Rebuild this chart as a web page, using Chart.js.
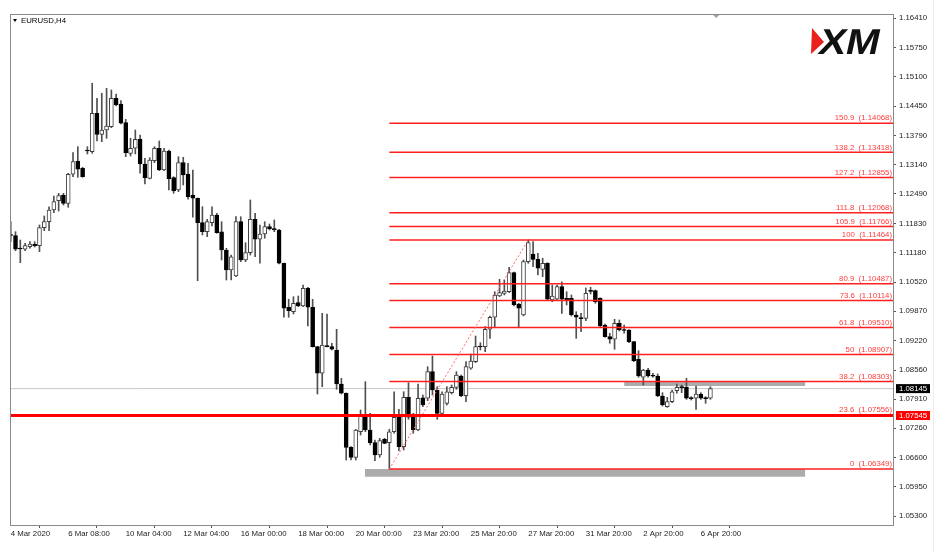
<!DOCTYPE html>
<html>
<head>
<meta charset="utf-8">
<script src="https://cdn.jsdelivr.net/npm/chart.js@4.4.1/dist/chart.umd.min.js"></script>
<style>
  html, body { margin: 0; padding: 0; background: #fff; }
</style>
</head>
<body>
<canvas id="chart" width="945" height="552"></canvas>
<script>
// EURUSD H4 candles (bar index 0 = first visible bar)
const opens = [
  1.11585,1.11558,1.11284,1.11255,1.11313,1.11366,1.11335,1.11737,1.11871,1.12132,
  1.12339,1.12467,1.12281,1.12929,1.13225,1.13063,1.13464,1.13433,1.14290,1.13821,
  1.13917,1.13991,1.14625,1.14498,1.14080,1.13397,1.13509,1.13710,1.13159,1.12839,
  1.13232,1.13509,1.13025,1.13449,1.12853,1.12578,1.13188,1.12935,1.12467,1.12393,
  1.11848,1.11647,1.11848,1.12020,1.11647,1.11239,1.10793,1.10659,1.11871,1.11016,
  1.11179,1.11924,1.11478,1.11596,1.11759,1.11708,1.11685,1.10942,1.09960,1.09862,
  1.10063,1.09989,1.10384,1.09960,1.09081,1.08487,1.09107,1.09081,1.09007,1.08248,
  1.08041,1.06835,1.06612,1.07183,1.07534,1.07221,1.06938,1.06663,1.07014,1.06938,
  1.07183,1.07505,1.06849,1.07951,1.07534,1.07221,1.07942,1.07929,1.08523,1.08114,
  1.07594,1.07817,1.08054,1.08174,1.08427,1.07987,1.08599,1.08746,1.09085,1.09081,
  1.09469,1.09737,1.10212,1.10272,1.10308,1.10732,1.10034,1.09788,1.10978,1.11150,
  1.11031,1.10808,1.10942,1.10123,1.10139,1.10420,1.10161,1.10161,1.09788,1.09721,
  1.09714,1.10324,1.10331,1.10161,1.09565,1.09304,1.09246,1.09603,1.09453,1.09453,
  1.09192,1.08799,1.08398,1.08561,1.08427,1.08427,1.07980,1.07741,1.07853,1.08099,
  1.08174,1.08174,1.07929,1.07929,1.08025,1.07929,1.07929
];
const highs = [
  1.11871,1.11647,1.11462,1.11389,1.11424,1.11424,1.11797,1.11998,1.12205,1.12444,
  1.12504,1.12504,1.12951,1.13411,1.13545,1.13085,1.13545,1.14960,1.14625,1.14737,
  1.14848,1.14810,1.14721,1.14571,1.14156,1.13732,1.13917,1.13806,1.13286,1.13299,
  1.13545,1.13672,1.13509,1.13471,1.12875,1.13321,1.13308,1.13174,1.13025,1.12400,
  1.12205,1.11924,1.12205,1.12058,1.11871,1.11277,1.11127,1.11982,1.11982,1.11402,
  1.12355,1.12058,1.11797,1.11871,1.11819,1.11909,1.11701,1.10949,1.10139,1.10197,
  1.10212,1.10458,1.10406,1.10139,1.09090,1.09826,1.09811,1.09157,1.09469,1.08375,
  1.08050,1.06849,1.07237,1.07668,1.08300,1.07594,1.06998,1.07036,1.07036,1.07237,
  1.08076,1.07683,1.08076,1.08277,1.07594,1.08248,1.08003,1.08634,1.08873,1.08188,
  1.08076,1.08188,1.08226,1.08523,1.08449,1.08746,1.08918,1.09319,1.09170,1.09527,
  1.09766,1.10308,1.10585,1.10569,1.10853,1.10748,1.10049,1.11016,1.11464,1.11424,
  1.11165,1.11054,1.10956,1.10458,1.10458,1.10531,1.10308,1.10235,1.09862,1.09826,
  1.10391,1.10406,1.10346,1.10174,1.09587,1.09380,1.09692,1.09677,1.09565,1.09460,
  1.09200,1.08991,1.08576,1.08599,1.08487,1.08471,1.08054,1.07951,1.08114,1.08248,
  1.08226,1.08375,1.07965,1.08204,1.08054,1.07965,1.08188
];
const lows = [
  1.11424,1.11223,1.10956,1.11223,1.11277,1.11306,1.11201,1.11670,1.11670,1.12072,
  1.12109,1.12243,1.12192,1.12875,1.12862,1.12862,1.13382,1.13397,1.13672,1.13656,
  1.13732,1.13970,1.14453,1.14050,1.13321,1.13337,1.13382,1.12951,1.12712,1.12824,
  1.13188,1.13009,1.13009,1.12578,1.12504,1.12540,1.12690,1.12371,1.11969,1.10554,
  1.11574,1.11536,1.11775,1.11612,1.11016,1.10569,1.10569,1.10643,1.10978,1.10978,
  1.11127,1.11089,1.10942,1.11500,1.11685,1.11647,1.10927,1.09737,1.09737,1.09811,
  1.09973,1.09973,1.09543,1.09070,1.08025,1.08188,1.09074,1.09007,1.08130,1.08025,
  1.06552,1.06552,1.06552,1.07110,1.07183,1.06887,1.06536,1.06612,1.06915,1.06349,
  1.07148,1.06759,1.06775,1.07460,1.07148,1.07205,1.07741,1.07875,1.08003,1.07460,
  1.07556,1.07779,1.08025,1.08130,1.07965,1.07853,1.08576,1.08724,1.09007,1.08969,
  1.09268,1.09527,1.10197,1.10235,1.10286,1.09989,1.09527,1.09766,1.10942,1.10866,
  1.10681,1.10643,1.10123,1.10085,1.10123,1.09826,1.10011,1.09766,1.09268,1.09415,
  1.09661,1.10257,1.10049,1.09527,1.09291,1.09157,1.09023,1.09431,1.09380,1.09170,
  1.08746,1.08398,1.08226,1.08398,1.08398,1.07965,1.07757,1.07728,1.07831,1.08041,
  1.08054,1.07906,1.07891,1.07683,1.07906,1.07817,1.07906
];
const closes = [
  1.11563,1.11255,1.11262,1.11335,1.11373,1.11335,1.11737,1.11871,1.12132,1.12317,
  1.12451,1.12281,1.12929,1.13210,1.13040,1.12875,1.13449,1.14290,1.13821,1.13917,
  1.14007,1.14625,1.14475,1.14067,1.13411,1.13509,1.13710,1.13159,1.12853,1.13248,
  1.13509,1.13025,1.13449,1.12830,1.12556,1.13188,1.12913,1.12429,1.12393,1.11848,
  1.11647,1.11871,1.12020,1.11625,1.11239,1.10793,1.11089,1.11871,1.11016,1.11179,
  1.11924,1.11478,1.11596,1.11759,1.11708,1.11694,1.10942,1.09938,1.09884,1.10049,
  1.09989,1.10384,1.09960,1.09081,1.08487,1.09119,1.09081,1.09023,1.08248,1.08041,
  1.06835,1.06612,1.07221,1.07534,1.07221,1.06938,1.06663,1.06983,1.06924,1.07183,
  1.07505,1.06849,1.07951,1.07505,1.07221,1.07929,1.07779,1.08523,1.08114,1.07594,
  1.08025,1.08076,1.08174,1.08449,1.07980,1.08634,1.08761,1.09081,1.09074,1.09469,
  1.09737,1.10235,1.10286,1.10324,1.10732,1.10011,1.09938,1.10978,1.11402,1.11031,
  1.10831,1.10942,1.10139,1.10212,1.10420,1.10139,1.10123,1.09788,1.09737,1.09708,
  1.10272,1.10317,1.10085,1.09543,1.09304,1.09246,1.09603,1.09453,1.09442,1.09192,
  1.08768,1.08427,1.08561,1.08427,1.08420,1.07980,1.07779,1.07853,1.08076,1.08174,
  1.08168,1.07929,1.07922,1.08025,1.07929,1.07922,1.08145
];

// time axis labels and the bar each one belongs to
const dateLabels = ['4 Mar 2020', '6 Mar 08:00', '10 Mar 04:00', '12 Mar 04:00', '16 Mar 00:00',
  '18 Mar 00:00', '20 Mar 00:00', '23 Mar 20:00', '25 Mar 20:00', '27 Mar 20:00',
  '31 Mar 20:00', '2 Apr 20:00', '6 Apr 20:00'];
const dateBars = [0, 12, 24, 36, 48, 60, 72, 84, 96, 108, 120, 132, 144];

// price axis labels
const priceTicks = [1.16410, 1.15750, 1.15100, 1.14450, 1.13790, 1.13140, 1.12490, 1.11830, 1.11180,
  1.10520, 1.09870, 1.09220, 1.08560, 1.07910, 1.07260, 1.06600, 1.05950, 1.05300];

// fibonacci expansion drawn from the 20 Mar low to the 27 Mar high
const fibRatios = ['150.9', '138.2', '127.2', '111.8', '105.9', '100', '80.9', '73.6', '61.8', '50', '38.2', '23.6', '0'];
const fibPrices = [1.14068, 1.13418, 1.12855, 1.12068, 1.11766, 1.11464, 1.10487, 1.10114, 1.09510, 1.08907, 1.08303, 1.07556, 1.06349];
const fibFromBar = 79;
const fibToBar = 108;

// horizontal lines
const supportPrice = 1.07545;
const bidPrice = 1.08145;

// grey zones (bars from/to, price top/bottom)
const zoneFrom = [73.9, 128];
const zoneTo = [165.8, 165.8];
const zoneTop = [1.06349, 1.08300];
const zoneBottom = [1.06179, 1.08204];

const X_MIN = -0.15, X_MAX = 184.1;
const Y_MIN = 1.05101, Y_MAX = 1.16506;
const FONT = '"Liberation Sans", Arial, sans-serif';
const FS = 7.8;

const idx = opens.map((_, i) => i);
const wickData = idx.map(i => ({ x: i, y: [lows[i], highs[i]] }));
const bodyData = idx.map(i => ({ x: i, y: [Math.min(opens[i], closes[i]), Math.max(opens[i], closes[i])] }));
const bodyFill = idx.map(i => closes[i] >= opens[i] ? '#ffffff' : '#000000');
const bodyEdge = idx.map(i => closes[i] >= opens[i] ? '#404040' : '#000000');

function hline(price, from, to, color, width, order, dash) {
  return {
    type: 'line',
    data: [{ x: from, y: price }, { x: to, y: price }],
    borderColor: color,
    borderWidth: width,
    borderDash: dash || [],
    pointRadius: 0,
    fill: false,
    order: order
  };
}

const datasets = [];

// grey zones, filled between a top and a bottom edge
zoneFrom.forEach((f, k) => {
  datasets.push({
    type: 'line',
    data: [{ x: f, y: zoneTop[k] }, { x: zoneTo[k], y: zoneTop[k] }],
    borderWidth: 0, pointRadius: 0, fill: false, order: 20
  });
  datasets.push({
    type: 'line',
    data: [{ x: f, y: zoneBottom[k] }, { x: zoneTo[k], y: zoneBottom[k] }],
    borderWidth: 0, pointRadius: 0,
    fill: '-1', backgroundColor: '#acacac', order: 20
  });
});

datasets.push(hline(bidPrice, X_MIN, X_MAX, '#c8c8c8', 1, 15));

datasets.push({
  type: 'bar',
  data: wickData,
  backgroundColor: '#505050',
  barThickness: 1,
  grouped: false,
  order: 6
});
datasets.push({
  type: 'bar',
  data: bodyData,
  backgroundColor: bodyFill,
  borderColor: bodyEdge,
  borderWidth: 1,
  borderSkipped: false,
  barThickness: 4,
  minBarLength: 1,
  grouped: false,
  order: 5
});

fibPrices.forEach(p => datasets.push(hline(p, fibFromBar, X_MAX, '#ff2020', 1.5, 3)));

datasets.push({
  type: 'line',
  data: [{ x: fibFromBar, y: fibPrices[fibPrices.length - 1] }, { x: fibToBar, y: fibPrices[5] }],
  borderColor: '#ff6a6a', borderWidth: 1, borderDash: [2, 2],
  pointRadius: 0, fill: false, order: 2
});

datasets.push(hline(supportPrice, X_MIN, X_MAX, '#ff0000', 3, 1));

// labels, boxes and frame drawn on top
const decor = {
  id: 'decor',
  beforeDraw(chart) {
    const { ctx, width, height } = chart;
    ctx.save();
    ctx.fillStyle = '#ffffff';
    ctx.fillRect(0, 0, width, height);
    ctx.restore();
  },
  afterDatasetsDraw(chart) {
    const { ctx, chartArea: a, scales: { y } } = chart;
    ctx.save();
    ctx.font = FS + 'px ' + FONT;
    ctx.fillStyle = '#ff3c3c';
    ctx.textAlign = 'right';
    ctx.textBaseline = 'bottom';
    fibRatios.forEach((r, k) => {
      ctx.fillText(r + '  (' + fibPrices[k].toFixed(5) + ')', a.right - 1, y.getPixelForValue(fibPrices[k]) - 1);
    });
    ctx.restore();
  },
  afterDraw(chart) {
    const { ctx, chartArea: a, scales: { x, y } } = chart;
    ctx.save();
    // frame
    ctx.strokeStyle = '#8a8a8a';
    ctx.lineWidth = 1;
    ctx.strokeRect(Math.round(a.left) + 0.5, Math.round(a.top) + 0.5, Math.round(a.right - a.left), Math.round(a.bottom - a.top));

    // window edge on the far right
    ctx.strokeStyle = '#ececec';
    ctx.beginPath(); ctx.moveTo(933.5, 0); ctx.lineTo(933.5, chart.height); ctx.stroke();

    // price boxes
    ctx.font = FS + 'px ' + FONT;
    ctx.textAlign = 'left';
    ctx.textBaseline = 'middle';
    [[bidPrice, '#000000'], [supportPrice, '#ff0000']].forEach(([p, bg]) => {
      const py = y.getPixelForValue(p);
      ctx.fillStyle = bg;
      ctx.fillRect(a.right + 3, py - 4.5, 34, 9);
      ctx.fillStyle = '#ffffff';
      ctx.fillText(p.toFixed(5), a.right + 6, py + 0.5);
    });

    // symbol caption
    ctx.fillStyle = '#000000';
    ctx.beginPath();
    ctx.moveTo(a.left + 3, a.top + 5); ctx.lineTo(a.left + 7, a.top + 5); ctx.lineTo(a.left + 5, a.top + 8);
    ctx.closePath(); ctx.fill();
    ctx.font = FS + 'px ' + FONT;
    ctx.textBaseline = 'middle';
    ctx.fillText('EURUSD,H4', a.left + 11, a.top + 6.5);

    // chart shift marker
    const sx = x.getPixelForValue(147.2);
    ctx.fillStyle = '#a0a0a0';
    ctx.beginPath();
    ctx.moveTo(sx - 3, a.top + 1); ctx.lineTo(sx + 3, a.top + 1); ctx.lineTo(sx, a.top + 4);
    ctx.closePath(); ctx.fill();

    // broker logo
    ctx.fillStyle = '#e8211c';
    ctx.beginPath();
    ctx.moveTo(812, 28); ctx.lineTo(824, 42); ctx.lineTo(811, 54);
    ctx.closePath(); ctx.fill();
    ctx.save();
    ctx.translate(817, 54);
    ctx.transform(1, 0, -0.22, 1, 0, 0);
    ctx.scale(1.12, 1);
    ctx.fillStyle = '#111111';
    ctx.font = '900 36px ' + FONT;
    ctx.textAlign = 'left';
    ctx.textBaseline = 'alphabetic';
    ctx.fillText('XM', 0, 0);
    ctx.restore();
    ctx.restore();
  }
};

new Chart(document.getElementById('chart'), {
  type: 'bar',
  data: { datasets: datasets },
  options: {
    responsive: false,
    animation: false,
    events: [],
    layout: { padding: { left: 10, top: 14, right: 0, bottom: 0 } },
    plugins: { legend: { display: false }, tooltip: { enabled: false } },
    scales: {
      x: {
        type: 'linear',
        min: X_MIN,
        max: X_MAX,
        offset: false,
        bounds: 'data',
        afterBuildTicks: s => { s.ticks = dateBars.map(v => ({ value: v })); },
        afterFit: s => { s.height = 27; },
        ticks: {
          autoSkip: false,
          maxRotation: 0,
          align: 'start',
          padding: 1,
          color: '#222222',
          font: { family: FONT, size: FS },
          callback: v => { const k = dateBars.indexOf(v); return k >= 0 ? dateLabels[k] : ''; }
        },
        grid: { drawOnChartArea: false, drawTicks: true, tickLength: 3, tickColor: '#555555' },
        border: { display: false }
      },
      y: {
        type: 'linear',
        position: 'right',
        min: Y_MIN,
        max: Y_MAX,
        bounds: 'data',
        beginAtZero: false,
        afterBuildTicks: s => { s.ticks = priceTicks.map(v => ({ value: v })); },
        afterFit: s => { s.width = 52; },
        ticks: {
          padding: 3,
          color: '#222222',
          font: { family: FONT, size: FS },
          callback: v => Number(v).toFixed(5)
        },
        grid: { drawOnChartArea: false, drawTicks: true, tickLength: 3, tickColor: '#555555' },
        border: { display: false }
      }
    }
  },
  plugins: [decor]
});
</script>
</body>
</html>
